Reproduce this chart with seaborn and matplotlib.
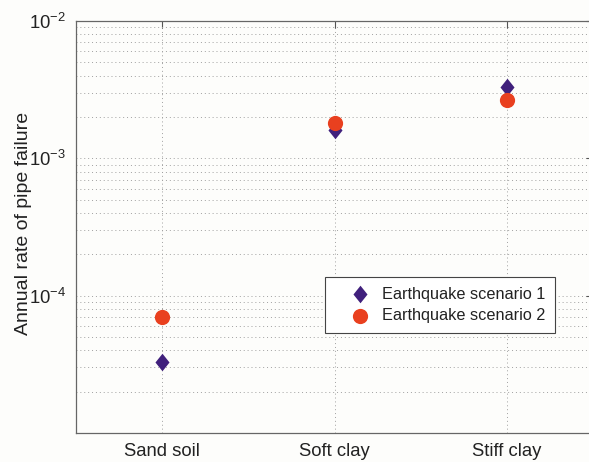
import numpy as np
import pandas as pd
import matplotlib
matplotlib.use("Agg")
import matplotlib.pyplot as plt
import seaborn as sns

# Soil categories and annual pipe-failure rates per earthquake scenario
soil_types = ["Sand soil", "Soft clay", "Stiff clay"]
scenario_1 = [3.3e-5, 1.6e-3, 3.3e-3]
scenario_2 = [7.0e-5, 1.8e-3, 2.65e-3]
series_names = ["Earthquake scenario 1", "Earthquake scenario 2"]
y_ticks = [1e-4, 1e-3, 1e-2]

sns.set_style("white")
plt.rcParams["font.family"] = ["Liberation Sans", "DejaVu Sans"]
plt.rcParams["mathtext.fontset"] = "custom"
plt.rcParams["mathtext.rm"] = "Liberation Sans"
plt.rcParams["mathtext.it"] = "Liberation Sans:italic"
plt.rcParams["mathtext.bf"] = "Liberation Sans:bold"

df1 = pd.DataFrame({"soil": soil_types, "rate": scenario_1})
df2 = pd.DataFrame({"soil": soil_types, "rate": scenario_2})

fig = plt.figure(figsize=(5.89, 4.62), dpi=100, facecolor="#fdfdfb")
ax = fig.add_axes([76 / 589, 1 - 433 / 462, 517 / 589, 412 / 462])
ax.set_facecolor("#fdfdfb")

# slightly tall diamond, like the classic MATLAB marker
diamond = [(0, 1), (0.8, 0), (0, -1), (-0.8, 0), (0, 1)]

sns.scatterplot(data=df1, x="soil", y="rate", ax=ax, marker=diamond, s=160,
                color="#40207c", linewidth=0, label=series_names[0], zorder=3)
sns.scatterplot(data=df2, x="soil", y="rate", ax=ax, marker="o", s=120,
                color="#e9401f", linewidth=0, label=series_names[1], zorder=4)

ax.set_yscale("log")
ax.set_ylim(1e-5, 1e-2)
ax.set_xlim(-0.5, 2.5)
ax.set_yticks(y_ticks)
ax.yaxis.set_minor_locator(matplotlib.ticker.LogLocator(base=10, subs=np.arange(2, 10)))
ax.yaxis.set_minor_formatter(matplotlib.ticker.NullFormatter())

ax.set_xlabel("")
ax.set_ylabel("Annual rate of pipe failure", fontsize=14, color="#222222")
ax.yaxis.set_label_coords(-0.085, 0.508)

ax.grid(True, which="major", axis="both", linestyle=(0, (1, 3)), color="#a0a0a0", linewidth=0.7)
ax.grid(True, which="minor", axis="y", linestyle=(0, (1, 3)), color="#a0a0a0", linewidth=0.7)

ax.tick_params(axis="both", which="major", direction="in", length=5, width=0.8,
               top=True, right=True, labelsize=13.3, colors="#555555", labelcolor="#222222", pad=7)
ax.tick_params(axis="y", which="minor", direction="in", length=3, width=0.6,
               right=True, colors="#555555")
ax.tick_params(axis="x", which="minor", bottom=False, top=False)

for sp in ax.spines.values():
    sp.set_color("#666666")
    sp.set_linewidth(0.9)

leg = ax.legend(loc="upper left", bbox_to_anchor=(0.482, 0.379), borderaxespad=0,
                fontsize=11.7, frameon=True, fancybox=False, framealpha=1,
                edgecolor="#444444", handletextpad=-0.2, borderpad=0.6,
                labelspacing=0.4, handlelength=3.1)
leg.get_frame().set_linewidth(0.8)
for t in leg.get_texts():
    t.set_color("#222222")

fig.savefig("out.png", dpi=100, facecolor=fig.get_facecolor())
